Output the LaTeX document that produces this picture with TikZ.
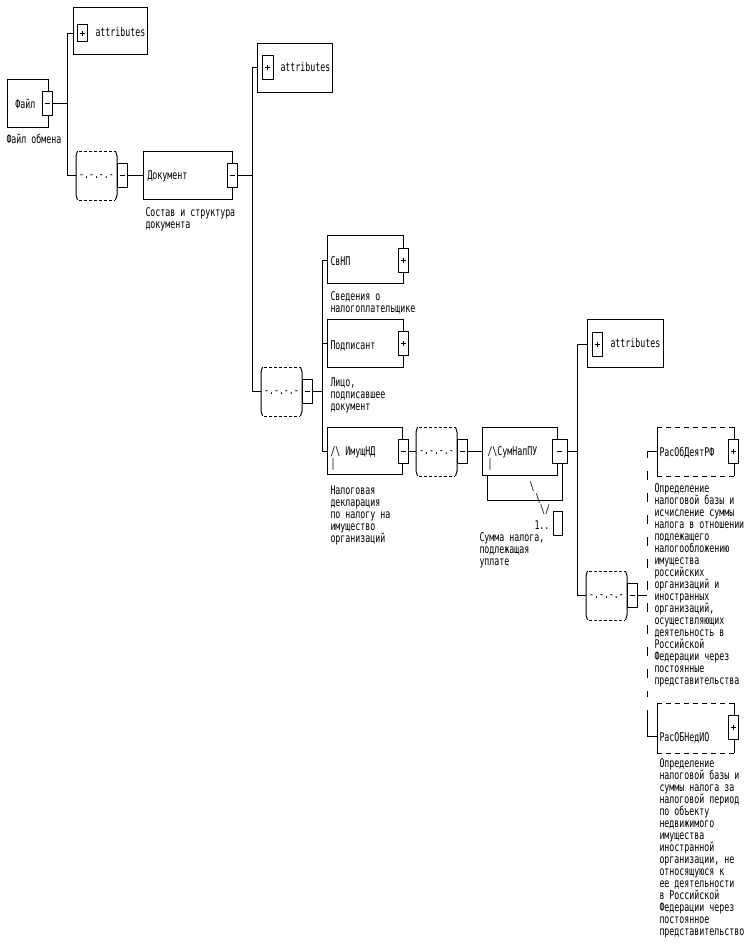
\documentclass[tikz,border=0pt]{standalone}
\usepackage{fontspec}
\newfontfamily\pxfam[FakeStretch=0.69]{DejaVu Sans Mono}
\newcommand\pxf{\pxfam\fontsize{12}{12}\selectfont}
\newcommand\firstln{\rule{0pt}{10pt}}
\newcommand\seqsym[3]{%
  \coordinate (#1in) at (#2,#3);
  \draw[dash pattern=on 3pt off 2pt] (#2+3,#3-24) -- (#2+39,#3-24);
  \draw[dash pattern=on 3pt off 2pt] (#2+3,#3+25) -- (#2+39,#3+25);
  \draw (#2+1.5,#3-24) -- (#2,#3-19) -- (#2,#3+20) -- (#2+1.5,#3+25);
  \draw (#2+39.5,#3-24) -- (#2+41,#3-19) -- (#2+41,#3+20) -- (#2+39.5,#3+25);
  \node[txt, anchor=base] (#1t) at (#2+20.5,#3+3.5) {-.-.-.-};
  \node[mbox] (#1m) at (#2+46,#3) {};
}
\begin{document}
\begin{tikzpicture}[x=1pt,y=-1pt,line width=1pt,
  txt/.style={font=\pxf, inner sep=0, anchor=base west},
  para/.style={font=\pxf, inner sep=0, anchor=north west, align=left},
  elbox/.style={draw, inner sep=0, anchor=north west},
  optbox/.style={inner sep=0, anchor=north west},
  sbox/.style={draw, fill=white, inner sep=0, minimum width=10pt, minimum height=24pt},
  mbox/.style={sbox, path picture={\draw[line width=1pt] ([xshift=-2.5pt]path picture bounding box.center) -- ([xshift=2.5pt]path picture bounding box.center);}},
  pbox/.style={sbox, path picture={\draw[line width=1pt] ([xshift=-2.5pt]path picture bounding box.center) -- ([xshift=2.5pt]path picture bounding box.center) ([yshift=-2.5pt]path picture bounding box.center) -- ([yshift=2.5pt]path picture bounding box.center);}},
  optedge/.style={dash pattern=on 5pt off 4pt}
]
\useasboundingbox (0,0) rectangle (750,943);

% junction coordinates
\coordinate (j1) at (67,0);
\coordinate (j2) at (252,0);
\coordinate (j3) at (322,0);
\coordinate (j4) at (577,0);
\coordinate (j5) at (647,0);

% ---- Файл
\node[elbox, minimum width=41pt, minimum height=48pt] (file) at (7,79) {};
\node[txt] (filet) at (15,108) {Файл};
\node[mbox] (filem) at (47,103) {};
\node[txt] (filed) at (6,143) {Файл обмена};

% ---- attributes 1
\node[elbox, minimum width=74pt, minimum height=47pt] (a1) at (73,7) {};
\node[pbox, minimum height=17pt] (a1p) at (82,33) {};
\node[txt] (a1t) at (95,36) {attributes};

% ---- sequence 1
\seqsym{s1}{76}{175}

% ---- Документ
\node[elbox, minimum width=89pt, minimum height=48pt] (doc) at (143,151) {};
\node[txt] (doct) at (147,179) {Документ};
\node[mbox] (docm) at (232,175) {};
\node[para] (docd) at (145,206) {\firstln Состав и структура\\документа};

% ---- attributes 2
\node[elbox, minimum width=75pt, minimum height=49pt] (a2) at (257,43) {};
\node[pbox, minimum width=11pt] (a2p) at (267.5,67.5) {};
\node[txt] (a2t) at (280,71) {attributes};

% ---- sequence 2
\seqsym{s2}{261}{391}

% ---- СвНП
\node[elbox, minimum width=76pt, minimum height=48pt] (svnp) at (327,235) {};
\node[txt] (svnpt) at (330,265) {СвНП};
\node[pbox] (svnpp) at (403,260) {};
\node[para] (svnpd) at (330,290) {\firstln Сведения о\\налогоплательщике};

% ---- Подписант
\node[elbox, minimum width=76pt, minimum height=48pt] (podp) at (327,319) {};
\node[txt] (podpt) at (330,349) {Подписант};
\node[pbox] (podpp) at (403,343.5) {};
\node[para] (podpd) at (330,376) {\firstln Лицо,\\подписавшее\\документ};

% ---- ИмущНД
\node[elbox, minimum width=75pt, minimum height=47pt] (imnd) at (327,427) {};
\node[para] (imndt) at (330,445) {\firstln/\textbackslash\ ИмущНД\\|};
\node[mbox] (imndm) at (403,451) {};
\node[para] (imndd) at (330,484) {\firstln Налоговая\\декларация\\по налогу на\\имущество\\организаций};

% ---- sequence 3
\seqsym{s3}{416}{451}

% ---- СумНалПУ
\node[elbox, minimum width=75pt, minimum height=48pt] (snpu) at (482,427) {};
\node[para] (snput) at (487,445) {\firstln/\textbackslash СумНалПУ\\|};
\node[mbox, minimum width=15pt] (snpum) at (559.5,451) {};
\draw ([xshift=5pt]snpu.south west) -- ++(0,24) -| ([xshift=2.5pt]snpum.south);
\node[txt, anchor=center] (bs1) at (532,487) {\textbackslash};
\node[txt, anchor=center] (bs2) at (538,499) {\textbackslash};
\node[txt, anchor=center] (bs3) at (545,510) {\textbackslash/};
\node[txt] (mult) at (534,529) {1..};
\node[draw, inner sep=0, minimum width=9pt, minimum height=24pt] (multb) at (557.5,523) {};
\node[para] (snpud) at (479,531) {\firstln Сумма налога,\\подлежащая\\уплате};

% ---- attributes 3
\node[elbox, minimum width=76pt, minimum height=48pt] (a3) at (587,319) {};
\node[pbox] (a3p) at (597,344) {};
\node[txt] (a3t) at (610,347) {attributes};

% ---- sequence 4
\seqsym{s4}{586}{595}

% ---- РасОбДеятРФ (optional)
\node[optbox, minimum width=76pt, minimum height=48pt] (rob) at (657,427) {};
\draw (rob.north west) -- (rob.south west);
\draw (rob.north east) -- (rob.south east);
\draw[optedge] (rob.north west) -- (rob.north east);
\draw[optedge] (rob.south west) -- (rob.south east);
\node[txt] (robt) at (659,456) {РасОбДеятРФ};
\node[pbox] (robp) at (733,451) {};
\node[para] (robd) at (654,482) {\firstln Определение\\налоговой базы и\\исчисление суммы\\налога в отношении\\подлежащего\\налогообложению\\имущества\\российских\\организаций и\\иностранных\\организаций,\\осуществляющих\\деятельность в\\Российской\\Федерации через\\постоянные\\представительства};

% ---- РасОБНедИО (optional)
\node[optbox, minimum width=76pt, minimum height=49pt] (rnd) at (657,703) {};
\draw (rnd.north west) -- (rnd.south west);
\draw (rnd.north east) -- (rnd.south east);
\draw[optedge] (rnd.north west) -- (rnd.north east);
\draw[optedge] (rnd.south west) -- (rnd.south east);
\node[txt] (rndt) at (659,741) {РасОБНедИО};
\node[pbox] (rndp) at (733,727) {};
\coordinate (rndc) at (657,736);
\node[para] (rndd) at (659,757) {\firstln Определение\\налоговой базы и\\суммы налога за\\налоговой период\\по объекту\\недвижимого\\имущества\\иностранной\\организации, не\\относящуюся к\\ее деятельности\\в Российской\\Федерации через\\постоянное\\представительство};

% ---- connectors
\draw (filem.east) -- (filem.east -| j1);
\draw (j1 |- a1p) -- (j1 |- s1in);
\draw (j1 |- a1p) -- (a1.west |- a1p);
\draw (j1 |- s1in) -- (s1in);
\draw (s1m.east) -- (doc.west |- s1m);

\draw (docm.east) -- (docm.east -| j2);
\draw (j2 |- a2p) -- (j2 |- s2in);
\draw (j2 |- a2p) -- (a2.west |- a2p);
\draw (j2 |- s2in) -- (s2in);

\draw (s2m.east) -- (s2m.east -| j3);
\draw (j3 |- svnpp) -- (j3 |- imndm);
\draw (j3 |- svnpp) -- (svnp.west |- svnpp);
\draw (j3 |- podpp) -- (podp.west |- podpp);
\draw (j3 |- imndm) -- (imnd.west |- imndm);

\draw (imndm.east) -- (s3in);
\draw (s3m.east) -- (snpu.west |- s3m);

\draw (snpum.east) -- (snpum.east -| j4);
\draw (j4 |- a3p) -- (j4 |- s4in);
\draw (j4 |- a3p) -- (a3.west |- a3p);
\draw (j4 |- s4in) -- (s4in);

\draw (s4m.east) -- (s4m.east -| j5);
\coordinate (c1) at (647,458);
\coordinate (c2) at (647,471);
\coordinate (c3) at (647,697);
\coordinate (c4) at (647,710);
\draw (rob.west |- robp) -- (j5 |- robp) -- (c1);
\draw[dash pattern=on 9pt off 13pt] (c2) -- (c3);
\draw (c4) -- (j5 |- rndc) -- (rndc);
\end{tikzpicture}
\end{document}
